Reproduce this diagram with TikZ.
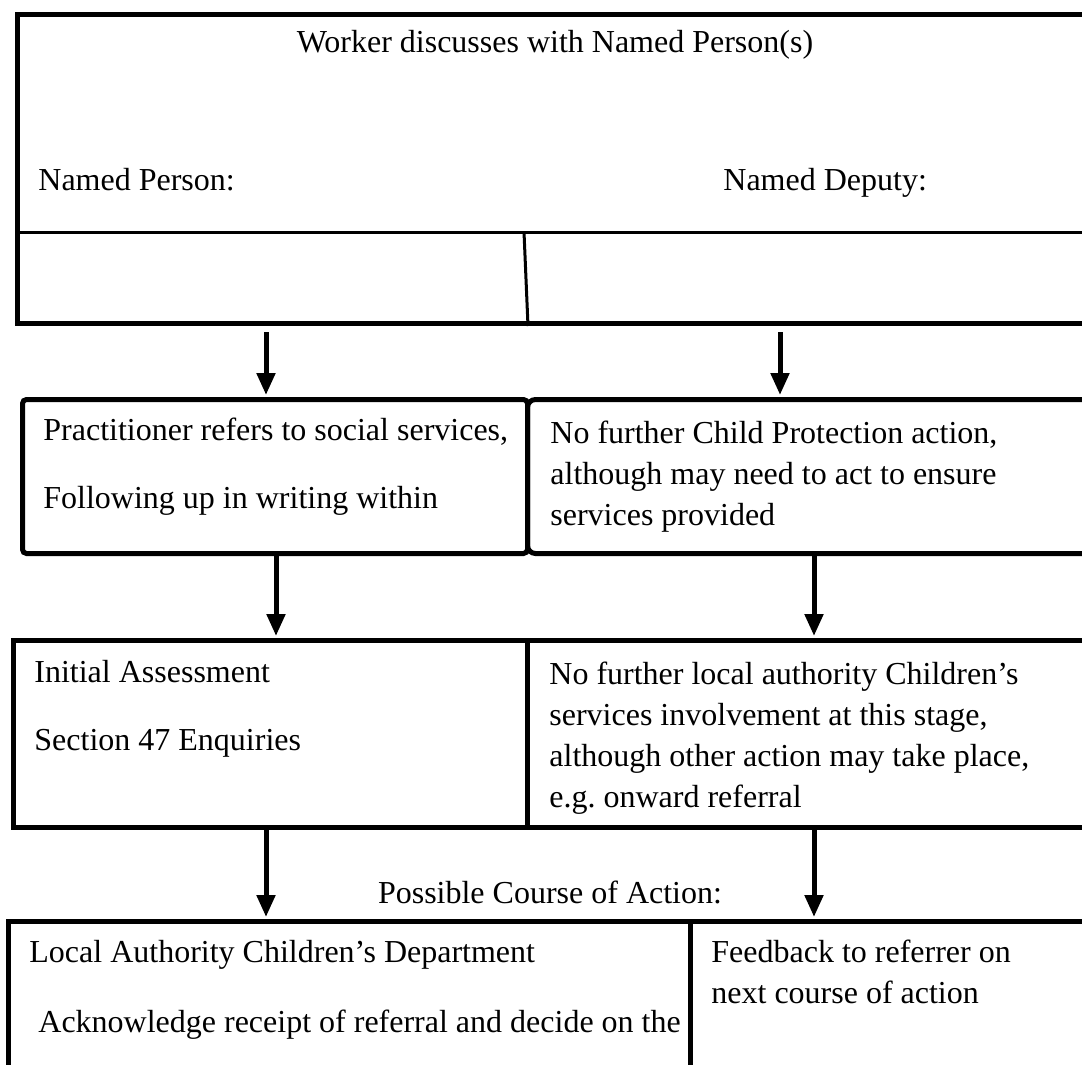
\documentclass[tikz,border=0pt]{standalone}
\usepackage{fontspec}
\setmainfont{Liberation Serif}
\usetikzlibrary{arrows.meta}
\frenchspacing

\begin{document}
\begin{tikzpicture}[x=0.5pt,y=-0.5pt,
	box/.style={draw,line width=2.5pt,rectangle,anchor=north west,inner sep=0pt},
	txt/.style={anchor=base west,inner sep=0pt,align=left,font=\fontsize{16}{20.5}\selectfont},
	arr/.style={-{Triangle[width=9pt,length=11pt]},line width=2.5pt,shorten >=1pt}]
			\clip (0,0) rectangle (1082,1065);
			
			\node[box,minimum width=542.5pt,minimum height=154.5pt] (a) at (15,12) {};
			\node[box,rounded corners=2pt,minimum width=252.5pt,minimum height=77pt] (b) at (20,397) {};
			\node[box,rounded corners=4pt,minimum width=287.5pt,minimum height=77pt] (c) at (525,397) {};
			\node[box,minimum width=257pt,minimum height=93.5pt] (d) at (11,638) {};
			\node[box,minimum width=287.5pt,minimum height=93.5pt] (e) at (525,638) {};
			\node[box,minimum width=341pt,minimum height=100pt] (f) at (6,919) {};
			\node[box,minimum width=206pt,minimum height=100pt] (g) at (688,919) {};
			
			\draw[line width=1.5pt] (a.west |- 0,232) -- (a.east |- 0,232);
			\draw[line width=1.5pt] (524,232) -- (a.south -| 528,0);
			
			% last line of each text sits on the given baseline
			\node[txt,anchor=base] (worker) at (555,53) {Worker discusses with Named Person(s)};
			\node[txt] (person) at (38,191) {Named Person:};
			\node[txt] (deputy) at (723,191) {Named Deputy:};
			\node[txt] (refer) at (43,508) {Practitioner refers to social services,\\[13.5pt]Following up in writing within};
			\node[txt] (nocp) at (550,525) {No further Child Protection action,\\although may need to act to ensure\\services provided};
			\node[txt] (assess) at (34,750) {Initial Assessment\\[13.5pt]Section 47 Enquiries};
			\node[txt] (nola) at (549,807) {No further local authority Children’s\\services involvement at this stage,\\although other action may take place,\\e.g. onward referral};
			\node[txt,anchor=base] (course) at (550,903) {Possible Course of Action:};
			\node[txt] (dept) at (29,1032) {Local Authority Children’s Department\\[14.5pt]\hspace*{4.5pt}Acknowledge receipt of referral and decide on the};
			\node[txt] (feed) at (711,1003) {Feedback to referrer on\\next course of action};
			
			\draw[arr, shorten <=3pt] (a.south -| 266,0) -- (b.north -| 266,0);
			\draw[arr, shorten <=3pt] (a.south -| 780,0) -- (c.north -| 780,0);
			\draw[arr] (b.south -| 276,0) -- (d.north -| 276,0);
			\draw[arr] (c.south -| 814,0) -- (e.north -| 814,0);
			\draw[arr] (d.south -| 266,0) -- (f.north -| 266,0);
			\draw[arr] (e.south -| 814,0) -- (g.north -| 814,0);
		\end{tikzpicture}
\end{document}
